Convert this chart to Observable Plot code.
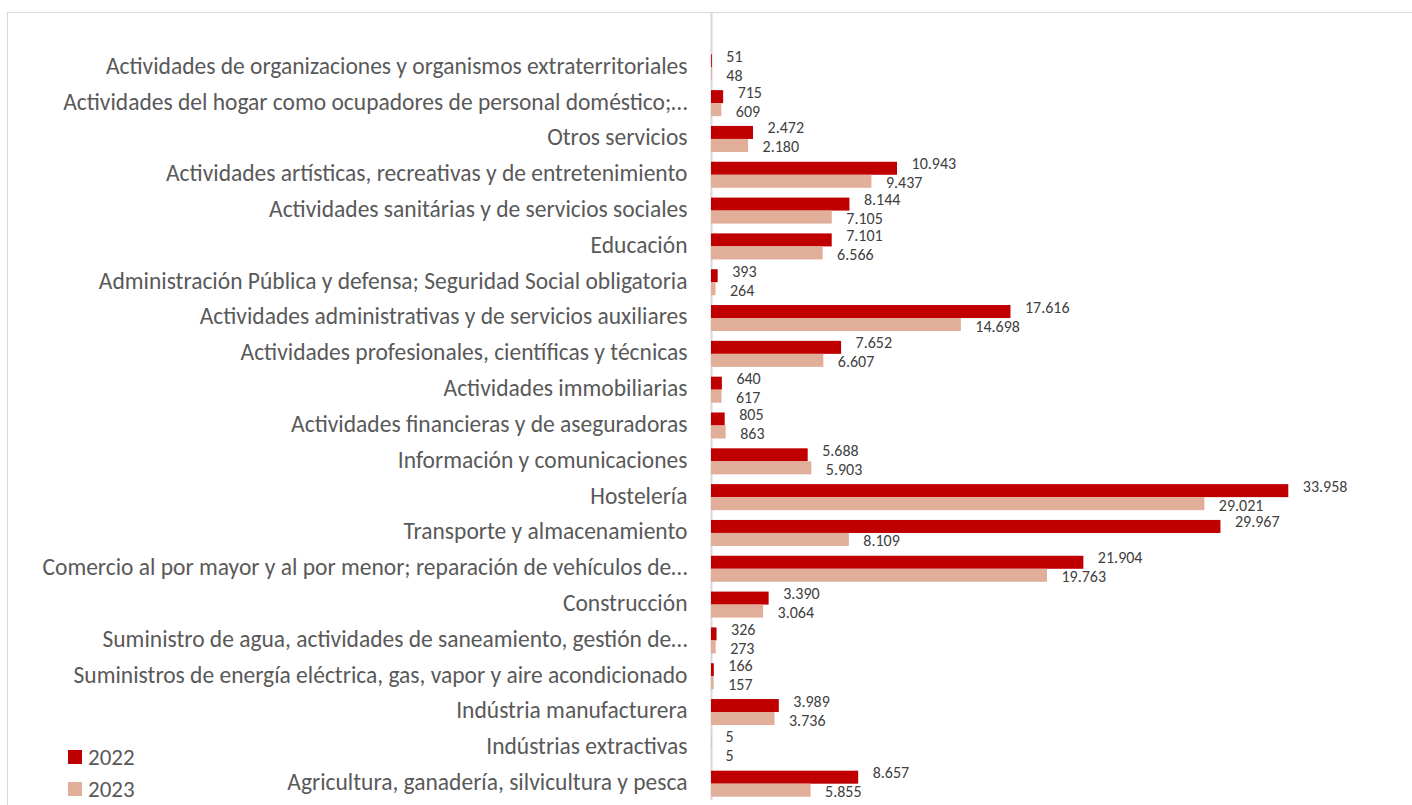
<!DOCTYPE html>
<html>
<head>
<meta charset="utf-8">
<script src="https://cdn.jsdelivr.net/npm/d3@7"></script>
<script src="https://cdn.jsdelivr.net/npm/@observablehq/plot@0.6"></script>
<style>
  html, body { margin: 0; padding: 0; background: #fff; overflow: hidden; }
  body { width: 1412px; height: 805px; position: relative; font-family: Calibri, Carlito, Lato, sans-serif; }
  #frame { position: absolute; left: 7px; top: 12px; width: 1440px; height: 830px; border: 1.5px solid #d9d9d9; box-sizing: border-box; }
  #chart { position: absolute; left: 0; top: 0; }
  #legend { position: absolute; left: 68px; top: 741px; color: #595959; font-size: 23px; line-height: 1; }
  #legend .row { display: flex; align-items: center; height: 32px; }
  #legend .sw { width: 14px; height: 14px; margin-right: 6px; }
</style>
</head>
<body>
<div id="frame"></div>
<div id="chart"></div>
<div id="legend"></div>
<script>
const categories = [
  "Actividades de organizaciones y organismos extraterritoriales",
  "Actividades del hogar como ocupadores de personal doméstico;…",
  "Otros servicios",
  "Actividades artísticas, recreativas y de entretenimiento",
  "Actividades sanitárias y de servicios sociales",
  "Educación",
  "Administración Pública y defensa; Seguridad Social obligatoria",
  "Actividades administrativas y de servicios auxiliares",
  "Actividades profesionales, científicas y técnicas",
  "Actividades immobiliarias",
  "Actividades financieras y de aseguradoras",
  "Información y comunicaciones",
  "Hostelería",
  "Transporte y almacenamiento",
  "Comercio al por mayor y al por menor; reparación de vehículos de…",
  "Construcción",
  "Suministro de agua, actividades de saneamiento, gestión de…",
  "Suministros de energía eléctrica, gas, vapor y aire acondicionado",
  "Indústria manufacturera",
  "Indústrias extractivas",
  "Agricultura, ganadería, silvicultura y pesca"
];
const series = ["2022", "2023"];
const values2022 = [51, 715, 2472, 10943, 8144, 7101, 393, 17616, 7652, 640, 805, 5688, 33958, 29967, 21904, 3390, 326, 166, 3989, 5, 8657];
const values2023 = [48, 609, 2180, 9437, 7105, 6566, 264, 14698, 6607, 617, 863, 5903, 29021, 8109, 19763, 3064, 273, 157, 3736, 5, 5855];
const colors = ["#C00000", "#E1AE9A"];

const data = [];
categories.forEach((c, i) => {
  data.push({cat: c, year: "2022", value: values2022[i]});
  data.push({cat: c, year: "2023", value: values2023[i]});
});
const d2022 = data.filter(d => d.year === "2022");
const d2023 = data.filter(d => d.year === "2023");

const loc = d3.formatLocale({decimal: ",", thousands: ".", grouping: [3], currency: ["", "€"]});
const fmt = loc.format(",d");

const plot = Plot.plot({
  width: 1412,
  height: 805,
  marginLeft: 711,
  marginRight: 21,
  marginTop: 12,
  marginBottom: 5,
  style: {fontFamily: "Calibri, Carlito, Lato, sans-serif", background: "transparent", overflow: "visible"},
  x: {domain: [0, 40000], axis: null},
  y: {domain: categories, range: [47.8, 800], padding: 0, round: false, axis: null},
  marks: [
    Plot.ruleX([0], {stroke: "#d9d9d9", strokeWidth: 2}),
    Plot.barX(d2022, {x: "value", y: "cat", fill: colors[0], insetTop: 6.5, insetBottom: 16.3}),
    Plot.barX(d2023, {x: "value", y: "cat", fill: colors[1], insetTop: 19.5, insetBottom: 3.3}),
    Plot.text(d2022, {x: "value", y: "cat", text: d => fmt(d.value), dx: 14, dy: -9.5, textAnchor: "start", fill: "#404040", fontSize: 16}),
    Plot.text(d2023, {x: "value", y: "cat", text: d => fmt(d.value), dx: 14, dy: 9.5, textAnchor: "start", fill: "#404040", fontSize: 16}),
    Plot.axisY({tickSize: 0, tickPadding: 24, label: null, fontSize: 23.5, fill: "#595959"})
  ]
});
document.getElementById("chart").appendChild(plot);

const legend = document.getElementById("legend");
series.forEach((s, i) => {
  const row = document.createElement("div");
  row.className = "row";
  const sw = document.createElement("div");
  sw.className = "sw";
  sw.style.background = colors[i];
  const t = document.createElement("span");
  t.textContent = s;
  row.appendChild(sw);
  row.appendChild(t);
  legend.appendChild(row);
});
</script>
</body>
</html>
